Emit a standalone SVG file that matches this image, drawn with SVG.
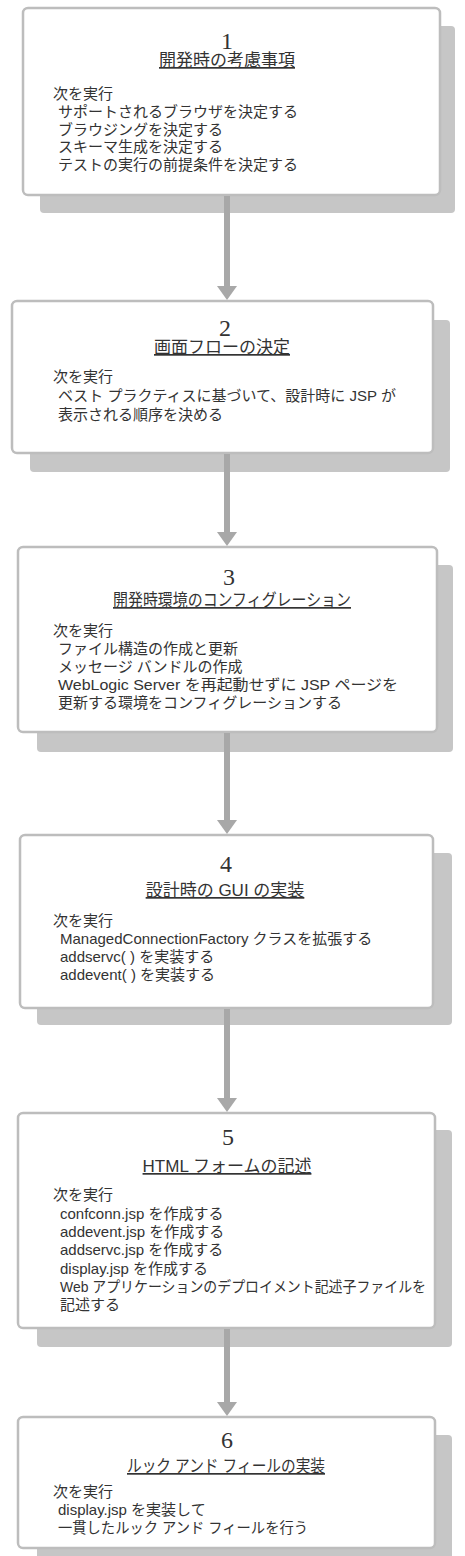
<svg xmlns="http://www.w3.org/2000/svg" width="465" height="1556" viewBox="0 0 465 1556">
<style>
.shadow{fill:#c6c6c6}
.box{fill:#ffffff;stroke:#bdbdbd;stroke-width:2.5}
.num{font-family:"Liberation Serif","Noto Sans CJK JP",serif;font-size:24px;fill:#333;text-anchor:middle}
.title{font-family:"Liberation Sans","Noto Sans CJK JP",sans-serif;font-size:17px;fill:#333;text-anchor:middle;text-decoration:underline}
.body{font-family:"Liberation Sans","Noto Sans CJK JP",sans-serif;font-size:15px;fill:#333}
.conn line{stroke:#a8a8a8;stroke-width:6}
.conn path{fill:#a8a8a8}
</style>
<rect width="465" height="1556" fill="#ffffff"/>
<g id="node1">
<rect class="shadow" x="40" y="26" width="415" height="187" rx="4"/>
<rect class="box" x="23" y="8" width="417" height="187" rx="5"/>
<text class="num" x="227" y="49">1</text>
<text class="title" x="227" y="66">開発時の考慮事項</text>
<text class="body" x="53" y="99">次を実行</text>
<text class="body" x="58" y="117">サポートされるブラウザを決定する</text>
<text class="body" x="58" y="134.5">ブラウジングを決定する</text>
<text class="body" x="58" y="152">スキーマ生成を決定する</text>
<text class="body" x="58" y="170">テストの実行の前提条件を決定する</text>
</g>
<g id="node2">
<rect class="shadow" x="30" y="320" width="420" height="152" rx="4"/>
<rect class="box" x="12" y="301" width="421" height="152" rx="5"/>
<text class="num" x="225" y="336">2</text>
<text class="title" x="222" y="353">画面フローの決定</text>
<text class="body" x="53" y="382">次を実行</text>
<text class="body" x="58" y="401">ベスト プラクティスに基づいて、設計時に JSP が</text>
<text class="body" x="58" y="420">表示される順序を決める</text>
</g>
<g id="node3">
<rect class="shadow" x="37" y="565" width="416" height="187" rx="4"/>
<rect class="box" x="18" y="547" width="419" height="185" rx="5"/>
<text class="num" x="229" y="585">3</text>
<text class="title" x="232" y="606" textLength="238" lengthAdjust="spacingAndGlyphs">開発時環境のコンフィグレーション</text>
<text class="body" x="53" y="636">次を実行</text>
<text class="body" x="58" y="654">ファイル構造の作成と更新</text>
<text class="body" x="58" y="672">メッセージ バンドルの作成</text>
<text class="body" x="58" y="690" textLength="340" lengthAdjust="spacingAndGlyphs">WebLogic Server を再起動せずに JSP ページを</text>
<text class="body" x="58" y="708">更新する環境をコンフィグレーションする</text>
</g>
<g id="node4">
<rect class="shadow" x="37" y="853" width="415" height="172" rx="4"/>
<rect class="box" x="20" y="835" width="413" height="173" rx="5"/>
<text class="num" x="226" y="872">4</text>
<text class="title" x="225" y="896">設計時の GUI の実装</text>
<text class="body" x="53" y="926">次を実行</text>
<text class="body" x="60" y="944">ManagedConnectionFactory クラスを拡張する</text>
<text class="body" x="60" y="962">addservc( ) を実装する</text>
<text class="body" x="60" y="980">addevent( ) を実装する</text>
</g>
<g id="node5">
<rect class="shadow" x="37" y="1130" width="415" height="217" rx="4"/>
<rect class="box" x="18" y="1113" width="417" height="215" rx="5"/>
<text class="num" x="228" y="1145">5</text>
<text class="title" x="227" y="1172">HTML フォームの記述</text>
<text class="body" x="53" y="1200">次を実行</text>
<text class="body" x="60" y="1218.5">confconn.jsp を作成する</text>
<text class="body" x="60" y="1237">addevent.jsp を作成する</text>
<text class="body" x="60" y="1255">addservc.jsp を作成する</text>
<text class="body" x="60" y="1274">display.jsp を作成する</text>
<text class="body" x="60" y="1292" textLength="366" lengthAdjust="spacingAndGlyphs">Web アプリケーションのデプロイメント記述子ファイルを</text>
<text class="body" x="60" y="1310">記述する</text>
</g>
<g id="node6">
<rect class="shadow" x="37" y="1435" width="415" height="130" rx="4"/>
<rect class="box" x="18" y="1417" width="417" height="131" rx="5"/>
<text class="num" x="227" y="1448">6</text>
<text class="title" x="226" y="1472" textLength="198" lengthAdjust="spacingAndGlyphs">ルック アンド フィールの実装</text>
<text class="body" x="53" y="1497">次を実行</text>
<text class="body" x="58" y="1515">display.jsp を実装して</text>
<text class="body" x="58" y="1533" textLength="250" lengthAdjust="spacingAndGlyphs">一貫したルック アンド フィールを行う</text>
</g>
<g id="connectors" class="conn">
<line x1="227" y1="196" x2="227" y2="290"/>
<path d="M217,286 L237,286 L227,300 Z"/>
<line x1="227" y1="454" x2="227" y2="536"/>
<path d="M217,532 L237,532 L227,546 Z"/>
<line x1="227" y1="733" x2="227" y2="824"/>
<path d="M217,820 L237,820 L227,834 Z"/>
<line x1="227" y1="1009" x2="227" y2="1102"/>
<path d="M217,1098 L237,1098 L227,1112 Z"/>
<line x1="227" y1="1329" x2="227" y2="1406"/>
<path d="M217,1402 L237,1402 L227,1416 Z"/>
</g>
</svg>
